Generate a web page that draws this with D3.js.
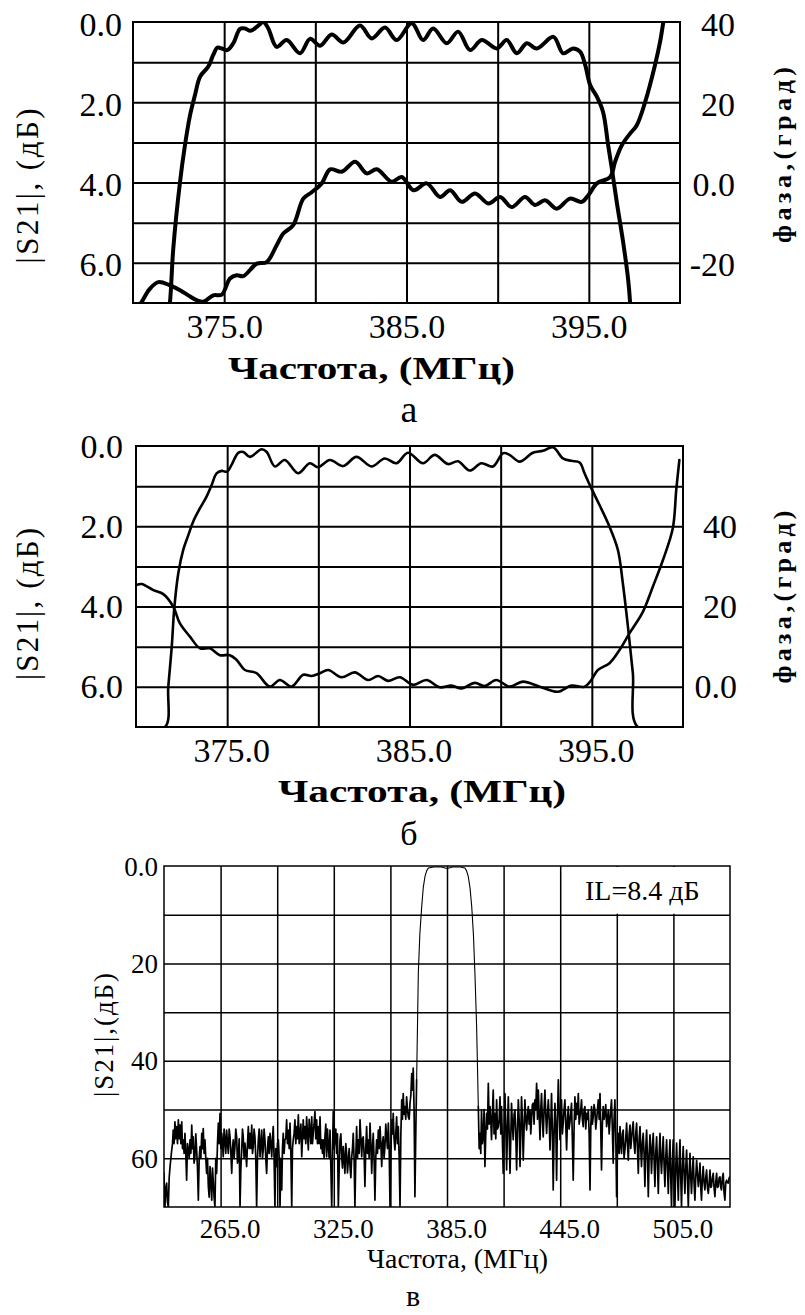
<!DOCTYPE html>
<html>
<head>
<meta charset="utf-8">
<script src="https://cdnjs.cloudflare.com/ajax/libs/d3/7.8.5/d3.min.js"></script>
<style>
  body { margin: 0; background: #fff; }
  svg { display: block; font-family: "Liberation Serif", "Times New Roman", serif; }
</style>
</head>
<body>
<div id="chart"></div>
<script>
// ---- data: [frequency MHz, value] ----

// panel a: |S21| (dB) and phase (deg)
var ampA = [[371.9,7.4],[372.03,6.97],[372.21,5.64],[372.58,3.98],[372.85,3.07],[373.13,2.32],[373.4,1.82],[373.68,1.36],
  [374.13,1.11],[374.4,0.82],[374.63,0.64],[374.87,0.66],[375.17,0.70],[375.5,0.53],[375.87,0.17],[376.14,0.16],[376.45,0.22],
  [376.87,0.09],[377.15,0.0],[377.42,0.16],[377.88,0.62],[378.43,0.45],[379.16,0.78],[379.71,0.42],[380.26,0.59],[380.9,0.31],
  [381.54,0.51],[382.45,0.09],[383.09,0.41],[383.82,0.14],[384.46,0.45],[385.29,0.03],[385.91,0.45],[386.46,0.16],[387.21,0.53],
  [387.83,0.24],[388.49,0.70],[389.13,0.45],[389.95,0.66],[390.5,0.45],[391.05,0.78],[391.6,0.53],[392.14,0.66],[393.06,0.37],
  [393.59,0.78],[394.14,0.66],[394.52,0.74],[394.8,1.07],[395.07,1.57],[395.44,1.86],[395.78,2.24],[396.06,3.07],[396.26,3.65],
  [396.53,4.48],[396.88,5.48],[397.15,6.39],[397.26,6.97],[397.3,7.4]];

var phaseA = [[370.2,-31.5],[370.48,-29.7],[370.9,-26.6],[371.39,-24.8],[372.03,-25.6],[372.58,-26.8],[373.03,-28.1],[373.49,-29.3],
  [373.86,-29.7],[374.4,-28.1],[374.87,-27.9],[375.32,-23.9],[375.69,-23.1],[376.05,-23.3],[376.79,-20.2],[377.33,-19.8],
  [377.88,-15.6],[378.24,-12.7],[378.79,-10.6],[379.34,-4.0],[379.8,-2.4],[380.35,-0.2],[380.81,3.3],[381.45,2.7],[382.18,5.2],
  [382.82,2.3],[383.37,3.3],[384.19,0.2],[384.74,1.4],[385.38,-1.9],[386.11,-0.2],[386.84,-3.6],[387.39,-1.9],[388.03,-4.8],
  [388.76,-2.7],[389.49,-5.2],[390.13,-3.6],[390.77,-6.1],[391.5,-3.6],[392.05,-5.6],[392.6,-4.4],[393.24,-6.5],[393.97,-4.0],
  [394.61,-4.8],[394.98,-3.1],[395.44,-0.2],[396.17,1.4],[396.44,5.2],[396.81,9.3],[397.26,12.2],[397.63,14.3],[398.09,20.1],
  [398.63,29.3],[398.91,35.1],[399.09,40.1],[399.2,43]];

// panel b
var ampB = [[370.0,7.0],[371.59,7.0],[371.77,6.0],[371.96,5.0],[372.1,4.04],[372.32,3.17],[372.59,2.59],[372.87,2.22],[373.14,1.88],
  [373.51,1.55],[373.87,1.26],[374.15,0.97],[374.42,0.68],[374.7,0.62],[375.0,0.64],[375.24,0.47],[375.61,0.17],[375.88,0.15],
  [376.25,0.27],[376.89,0.08],[377.17,0.15],[377.62,0.51],[378.16,0.35],[378.89,0.68],[379.53,0.43],[379.99,0.53],[380.63,0.35],
  [381.36,0.5],[382.09,0.27],[382.92,0.51],[383.64,0.31],[384.28,0.43],[384.92,0.17],[385.74,0.43],[386.38,0.22],[387.11,0.45],
  [387.66,0.38],[388.3,0.61],[388.94,0.43],[389.58,0.51],[390.13,0.18],[390.49,0.22],[391.04,0.39],[391.77,0.17],[392.32,0.12],
  [392.87,0.03],[393.41,0.31],[393.87,0.37],[394.33,0.41],[394.6,0.68],[394.97,1.05],[395.42,1.47],[395.97,2.01],[396.43,2.59],
  [396.7,3.42],[396.98,4.5],[397.25,5.66],[397.52,7.0],[400.0,7.0]];

var phaseB = [[370.04,25.4],[370.31,25.6],[370.95,24.1],[371.5,23.1],[372.04,20.0],[372.41,15.8],[372.96,12.5],[373.51,9.6],
  [374.05,9.6],[374.6,7.9],[375.15,7.9],[375.52,6.7],[375.97,4.2],[376.61,3.4],[377.34,0.05],[377.89,1.7],[378.53,0.05],
  [379.17,3.0],[379.63,2.7],[380.08,3.4],[380.54,4.2],[381.27,2.4],[382.0,3.6],[382.73,1.7],[383.28,2.7],[383.82,1.5],
  [384.47,2.4],[385.2,0.5],[385.93,1.7],[386.66,-0.1],[387.3,0.3],[387.85,-0.4],[388.58,1.0],[389.12,0.2],[389.76,1.7],
  [390.49,0.05],[391.22,1.3],[392.14,0.05],[393.14,-1.2],[393.87,0.3],[394.6,0.05],[394.97,1.7],[395.33,4.2],[395.97,5.9],
  [396.52,9.2],[397.07,13.4],[397.8,18.7],[398.35,25.0],[398.9,31.6],[399.44,39.5],[399.63,49.1],[399.8,56.5]];

// panel c: wide-band |S21| (dB)
var stopLeftC = [[235.0,63.1],[235.25,68],[235.5,70],[236.0,66],[236.4,65.1],[236.85,69],[237.3,70],[237.75,64],[238.2,61.7],
  [238.65,60],[239.1,58.3],[239.5,57],[239.9,54.2],[240.35,57],[240.8,52.5],[241.25,56],[241.7,53.5],[242.15,57],[242.6,52.1],
  [243.05,56],[243.5,53.2],[243.95,57],[244.4,52.5],[244.8,58],[245.2,56.2],[245.65,59],[246.1,54.9],[246.55,59],[247.0,64.5],
  [247.45,57],[247.9,58.3],[248.35,60],[248.8,56.2],[249.25,59],[249.7,53.2],[250.1,58],[250.5,55.6],[250.95,61],[251.4,59.7],
  [251.85,55],[252.3,58.3],[252.75,62],[253.2,68.6],[253.65,60],[254.1,57.6],[254.55,60],[255.0,54.9],[255.4,58],[255.8,53.9],
  [256.25,59],[256.7,56.2],[257.15,60],[257.6,63.1],[258.05,60],[258.5,65.8],[258.95,68],[259.4,61.7],[259.85,65],[260.3,68.6],
  [260.7,62],[261.1,64.5],[261.55,68],[262.0,70],[262.45,60],[262.9,63.1],[263.35,57],[263.8,52.8],[264.25,57],[264.7,50.8],
  [265.15,58],[265.6,54.9],[266.0,57],[266.4,59.7],[266.85,54],[267.3,56.2],[267.75,59],[268.2,54.2],[268.65,57],[269.1,59.0],
  [269.55,54],[270.0,55.6],[270.45,59],[270.9,63.1],[271.3,58],[271.7,56.2],[272.15,60],[272.6,57.6],[273.05,54],[273.5,55.6],
  [273.95,61],[274.4,59.7],[274.85,56],[275.3,70],[275.75,62],[276.2,58.3],[276.6,54],[277.0,55.6],[277.45,60],[277.9,56.9],
  [278.35,59],[278.8,61.7],[279.25,57],[279.7,53.5],[280.15,58],[280.6,54.9],[281.05,58],[281.5,53.2],[281.9,59],[282.3,57.6],
  [282.75,54],[283.2,55.6],[283.65,60],[284.1,70],[284.55,60],[285.0,56.2],[285.45,54],[285.9,59.7],[286.35,57],[286.8,54.2],
  [287.2,60],[287.6,58.3],[288.05,54],[288.5,56.2],[288.95,60],[289.4,63.1],[289.85,58],[290.3,55.6],[290.75,59],[291.2,54.9],
  [291.65,57],[292.1,59.7],[292.5,56],[292.9,53.5],[293.35,60],[293.8,70],[294.25,58],[294.7,61.7],[295.15,57],[295.6,56.2],
  [296.05,60],[296.5,70],[296.95,60],[297.4,66.5],[297.8,58],[298.2,54.9],[298.65,59],[299.1,56.2],[299.55,56],[300.0,52.1],
  [300.45,57],[300.9,54.2],[301.35,58],[301.8,52.8],[302.25,59],[302.7,70],[303.1,58],[303.5,56.2],[303.95,55],[304.4,52.1],
  [304.85,57],[305.3,53.5],[305.75,56],[306.2,51.1],[306.65,57],[307.1,54.9],[307.55,53],[308.0,59.7],[308.4,56],[308.8,52.1],
  [309.25,56],[309.7,53.5],[310.15,57],[310.6,51.5],[311.05,55],[311.5,58.3],[311.95,52],[312.4,54.2],[312.85,57],[313.3,51.5],
  [313.7,57],[314.1,54.9],[314.55,53],[315.0,50.4],[315.45,56],[315.9,52.1],[316.35,57],[316.8,53.5],[317.25,57],[317.7,51.5],
  [318.15,58],[318.6,56.2],[319.0,59],[319.4,56.2],[319.85,60],[320.3,55.6],[320.75,53],[321.2,59.7],[321.65,54],[322.1,57.6],
  [322.55,60],[323.0,54.2],[323.45,62],[323.9,70],[324.3,60],[324.7,50.4],[325.15,58],[325.6,56.2],[326.05,54],[326.5,59.0],
  [326.95,55],[327.4,70],[327.85,62],[328.3,56.2],[328.75,55],[329.2,59.7],[329.6,62],[330.0,57.6],[330.45,60],[330.9,63.1],
  [331.35,57],[331.8,59.0],[332.25,63],[332.7,60.4],[333.15,58],[333.6,61.7],[334.05,64],[334.5,59.7],[334.9,58],[335.3,54.9],
  [335.75,60],[336.2,70],[336.65,60],[337.1,53.5],[337.55,60],[338.0,56.2],[338.45,59],[338.9,52.1],[339.35,56],[339.8,59.7],
  [340.2,56],[340.6,55.6],[341.05,59],[341.5,65.8],[341.95,58],[342.4,53.5],[342.85,59],[343.3,56.2],[343.75,60],[344.2,52.8],
  [344.65,57],[345.1,63.1],[345.5,58],[345.9,54.9],[346.35,60],[346.8,68.6],[347.25,60],[347.7,56.2],[348.15,59],[348.6,54.2],
  [349.05,58],[349.5,53.5],[349.95,57],[350.4,61.7],[350.8,57],[351.2,55.6],[351.65,60],[352.1,57.6],[352.55,53],[353.0,55.6],
  [353.45,58],[353.9,52.8],[354.35,58],[354.8,70],[355.25,59],[355.7,52.1],[356.1,55],[356.5,50.8],[356.95,56],[357.4,58.3],
  [357.85,55],[358.3,51.5],[358.75,57],[359.2,53.5],[359.65,60],[360.1,70],[360.55,55],[361.0,48.0],[361.4,52],[361.8,46.7],
  [362.25,51],[362.7,49.4],[363.15,52],[363.6,47.4],[364.05,50],[364.5,51.5],[364.95,52],[365.4,48.7],[365.85,47],[366.3,42.6],
  [366.7,46],[367.1,41.5],[367.55,50],[368.0,67.9],[368.45,55],[368.9,43.9]];

var passC = [[368.9,43.9],[369.8,22],[370.6,14],[371.6,8.3],[372.4,4.5],[373.3,2.2],[374.2,1.0],[375.1,0.4],[378.0,0.2],[382.0,0.2],
  [385.0,0.5],[388.0,0.2],[392.0,0.2],[394.5,0.4],[395.4,1.0],[396.3,2.2],[397.2,4.5],[398.1,8.3],[399.0,14],[399.8,22],
  [400.7,33],[401.2,42],[401.6,49.4]];

var stopRightC = [[401.6,49.4],[402.05,58],[402.5,54.9],[402.9,59],[403.3,50.1],[403.75,57],[404.2,55.6],[404.65,50],[405.1,61.7],
  [405.55,55],[406.0,50.8],[406.45,54],[406.9,44.6],[407.35,53],[407.8,49.4],[408.2,52],[408.6,56.2],[409.05,51],[409.5,46.0],
  [409.95,55],[410.4,50.8],[410.85,56],[411.3,48.0],[411.75,54],[412.2,53.5],[412.65,52],[413.1,47.4],[413.5,55],[413.9,49.4],
  [414.35,56],[414.8,63.1],[415.25,55],[415.7,46.7],[416.15,53],[416.6,62.4],[417.05,54],[417.5,47.4],[417.95,55],[418.4,63.1],
  [418.8,56],[419.2,48.7],[419.65,53],[420.1,56.2],[420.55,51],[421.0,50.1],[421.45,55],[421.9,62.4],[422.35,54],[422.8,48.0],
  [423.25,52],[423.7,61.7],[424.1,55],[424.5,47.4],[424.95,52],[425.4,60.4],[425.85,54],[426.3,48.0],[426.75,52],[427.2,54.2],
  [427.65,51],[428.1,49.4],[428.55,53],[429.0,50.1],[429.4,55],[429.8,52.1],[430.25,49],[430.7,48.7],[431.15,53],[431.6,48.0],
  [432.05,50],[432.5,44.6],[432.95,52],[433.4,46.0],[433.85,51],[434.3,56.2],[434.7,50],[435.1,46.7],[435.55,52],[436.0,55.6],
  [436.45,50],[436.9,46.0],[437.35,51],[437.8,54.9],[438.25,51],[438.7,48.0],[439.15,52],[439.6,58.3],[440.0,53],[440.4,46.7],
  [440.85,54],[441.3,66.5],[441.75,55],[442.2,48.7],[442.65,53],[443.1,64.5],[443.55,52],[444.0,43.9],[444.45,50],[444.9,56.2],
  [445.3,52],[445.7,48.0],[446.15,55],[446.6,52.8],[447.05,50],[447.5,48.0],[447.95,53],[448.4,58.3],[448.85,52],[449.3,49.4],
  [449.7,54],[450.1,52.8],[450.55,51],[451.0,48.7],[451.45,56],[451.9,64.5],[452.35,54],[452.8,47.4],[453.25,52],[453.7,48.7],
  [454.15,51],[454.6,46.7],[455.05,53],[455.5,51.5],[455.9,50],[456.3,48.0],[456.75,52],[457.2,53.5],[457.65,50],[458.1,49.4],
  [458.55,54],[459.0,50.8],[459.45,52],[459.9,50.1],[460.35,55],[460.8,66.5],[461.2,54],[461.6,49.4],[462.05,53],[462.5,51.5],
  [462.95,49],[463.4,50.1],[463.85,54],[464.3,52.1],[464.75,50],[465.2,48.0],[465.65,52],[466.1,46.7],[466.5,54],[466.9,62.4],
  [467.35,53],[467.8,49.4],[468.25,52],[468.7,50.8],[469.15,49],[469.6,53.5],[470.05,52],[470.5,50.1],[470.95,55],[471.4,52.1],
  [471.8,50],[472.2,48.0],[472.65,54],[473.1,61.0],[473.55,52],[474.0,48.0],[474.45,55],[474.9,67.9],[475.35,58],[475.8,54.9],
  [476.25,59],[476.7,53.5],[477.1,57],[477.5,59.0],[477.95,55],[478.4,54.2],[478.85,60],[479.3,58.3],[479.75,56],[480.2,52.8],
  [480.65,57],[481.1,60.4],[481.55,55],[482.0,53.2],[482.4,58],[482.8,56.2],[483.25,54],[483.7,52.5],[484.15,57],[484.6,59.0],
  [485.05,55],[485.5,52.8],[485.95,58],[486.4,63.1],[486.85,56],[487.3,53.5],[487.7,58],[488.1,61.7],[488.55,57],[489.0,54.9],
  [489.45,59],[489.9,65.8],[490.35,58],[490.8,54.2],[491.25,60],[491.7,67.9],[492.15,59],[492.6,55.2],[493.0,58],[493.4,63.1],
  [493.85,58],[494.3,54.9],[494.75,60],[495.2,65.8],[495.65,59],[496.1,55.6],[496.55,61],[497.0,67.2],[497.45,59],[497.9,54.9],
  [498.3,60],[498.7,63.1],[499.15,59],[499.6,55.6],[500.05,61],[500.5,65.8],[500.95,60],[501.4,56.2],[501.85,62],[502.3,67.2],
  [502.75,60],[503.2,56.2],[503.6,64],[504.0,70],[504.45,61],[504.9,56.2],[505.35,64],[505.8,70],[506.25,62],[506.7,56.9],
  [507.15,63],[507.6,68.6],[508.05,61],[508.5,56.2],[508.9,64],[509.3,70],[509.75,62],[510.2,57.6],[510.65,63],[511.1,67.2],
  [511.55,62],[512.0,58.3],[512.45,64],[512.9,70],[513.35,63],[513.8,59.0],[514.2,64],[514.6,67.2],[515.05,63],[515.5,59.7],
  [515.95,65],[516.4,68.6],[516.85,64],[517.3,60.4],[517.75,63],[518.2,65.8],[518.65,64],[519.1,61.0],[519.5,66],[519.9,68.6],
  [520.35,64],[520.8,61.7],[521.25,65],[521.7,66.5],[522.15,64],[522.6,62.4],[523.05,66],[523.5,67.2],[523.95,65],[524.4,62.4],
  [524.8,66],[525.2,65.8],[525.65,64],[526.1,63.1],[526.55,66],[527.0,67.9],[527.45,65],[527.9,63.1],[528.35,66],[528.8,65.8],
  [529.25,64],[529.7,63.8],[530.1,66],[530.5,66.5],[530.95,64],[531.4,63.1],[531.85,67],[532.3,68.6],[532.75,65],[533.2,64.5],
  [533.65,65],[534.1,65.1],[534.55,64],[535.0,63.8]];

// ticks
var gridFreqAB = [375, 380, 385, 390, 395];
var ticksFreqAB = [375, 385, 395];
var gridDbAB = [1, 2, 3, 4, 5, 6];
var ticksDbAB = [0, 2, 4, 6];
var ticksPhaseA = [40, 20, 0, -20];
var ticksPhaseB = [40, 20, 0];
var gridFreqC = [265, 295, 325, 355, 385, 415, 445, 475, 505];
var ticksFreqC = [265, 325, 385, 445, 505];
var gridDbC = [10, 20, 30, 40, 50, 60];
var ticksDbC = [0, 20, 40, 60];

var svg = d3.select("#chart").append("svg")
  .attr("width", 805)
  .attr("height", 1315);

var fmtDb = function(d) { return d.toFixed(1); };
var fmtDeg = function(d) { return d === 0 ? "0.0" : String(d); };

// axes put sans-serif on their group: drop it so the serif face is used
function plainAxis(sel, size) {
  sel.attr("font-family", null).attr("font-size", null);
  sel.select(".domain").remove();
  sel.selectAll("text").attr("fill", "#000").attr("font-size", size);
}

function drawPanel(p) {
  var x = d3.scaleLinear().domain(p.xDomain).range([p.l, p.r]);
  var y = d3.scaleLinear().domain(p.yDomain).range([p.t, p.b]);
  var g = svg.append("g");
  var h = p.b - p.t, w = p.r - p.l;

  // grid
  g.append("g")
    .attr("transform", "translate(0," + p.b + ")")
    .call(d3.axisBottom(x).tickValues(p.xGrid).tickSize(-h).tickFormat(""))
    .call(function(s) { s.select(".domain").remove(); })
    .selectAll("line").attr("stroke", "#000").attr("stroke-width", p.gridW);
  g.append("g")
    .attr("transform", "translate(" + p.l + ",0)")
    .call(d3.axisLeft(y).tickValues(p.yGrid).tickSize(-w).tickFormat(""))
    .call(function(s) { s.select(".domain").remove(); })
    .selectAll("line").attr("stroke", "#000").attr("stroke-width", p.gridW);

  if (p.blank) {
    g.append("rect")
      .attr("x", x(p.blank[0])).attr("y", p.t + 1)
      .attr("width", x(p.blank[1]) - x(p.blank[0])).attr("height", y(p.blank[2]) - p.t - 2)
      .attr("fill", "#fff");
  }

  g.append("rect")
    .attr("x", p.l).attr("y", p.t).attr("width", w).attr("height", h)
    .attr("fill", "none").attr("stroke", "#000").attr("stroke-width", p.gridW);

  // tick labels
  var xa = g.append("g")
    .attr("transform", "translate(0," + p.b + ")")
    .call(d3.axisBottom(x).tickValues(p.xTicks).tickSize(0).tickFormat(fmtDb));
  plainAxis(xa, p.tickFont);
  xa.selectAll("text").attr("y", p.xLabelY - p.b).attr("dy", null).attr("dx", p.xDx || 0);

  var ya = g.append("g")
    .attr("transform", "translate(" + p.l + ",0)")
    .call(d3.axisLeft(y).tickValues(p.yTicks).tickSize(0).tickPadding(p.l - p.yLabelX)
      .tickFormat(p.yFmt));
  plainAxis(ya, p.tickFont);
  ya.selectAll("text").attr("dy", p.yDy);

  var clipId = "clip" + p.id;
  svg.append("clipPath").attr("id", clipId)
    .append("rect").attr("x", p.l).attr("y", p.t).attr("width", w).attr("height", h);

  var line = d3.line()
    .x(function(d) { return x(d[0]); })
    .y(function(d) { return y(d[1]); })
    .curve(p.curve);

  p.series.forEach(function(s, i) {
    g.append("path").datum(s)
      .attr("clip-path", "url(#" + clipId + ")")
      .attr("d", line)
      .attr("fill", "none").attr("stroke", "#000")
      .attr("stroke-width", p.lineW[i]).attr("stroke-linejoin", "round").attr("stroke-linecap", "round");
  });

  if (p.phase) {
    var y2 = d3.scaleLinear().domain(p.y2Domain).range([p.b, p.t]);
    var ra = g.append("g")
      .attr("transform", "translate(" + p.r + ",0)")
      .call(d3.axisRight(y2).tickValues(p.y2Ticks).tickSize(0).tickFormat(fmtDeg));
    plainAxis(ra, p.tickFont);
    ra.selectAll("text")
      .attr("x", p.y2LabelX - p.r).attr("text-anchor", "end").attr("dy", p.yDy);
    var line2 = d3.line()
      .x(function(d) { return x(d[0]); })
      .y(function(d) { return y2(d[1]); })
      .curve(p.curve);
    g.append("path").datum(p.phase)
      .attr("clip-path", "url(#" + clipId + ")")
      .attr("d", line2)
      .attr("fill", "none").attr("stroke", "#000")
      .attr("stroke-width", p.lineW[0]).attr("stroke-linejoin", "round").attr("stroke-linecap", "round");
  }
  return g;
}

function vText(x, cy, txt, size, len, weight) {
  svg.append("text")
    .attr("transform", "translate(" + x + "," + cy + ") rotate(-90)")
    .attr("text-anchor", "middle")
    .attr("font-size", size)
    .attr("font-weight", weight || "normal")
    .attr("textLength", len).attr("lengthAdjust", "spacing")
    .text(txt);
}

function hText(x, y, txt, size, len, weight, anchor) {
  var t = svg.append("text")
    .attr("x", x).attr("y", y)
    .attr("text-anchor", anchor || "start")
    .attr("font-size", size)
    .attr("font-weight", weight || "normal")
    .text(txt);
  if (len) t.attr("textLength", len).attr("lengthAdjust", "spacingAndGlyphs");
}

// panel a
drawPanel({
  id: "a", l: 133, r: 680, t: 22, b: 303,
  xDomain: [370, 400], yDomain: [0, 7], y2Domain: [-30, 40],
  xGrid: gridFreqAB, yGrid: gridDbAB, xTicks: ticksFreqAB, yTicks: ticksDbAB, y2Ticks: ticksPhaseA,
  yFmt: fmtDb, gridW: 2, lineW: [4], tickFont: 34,
  xLabelY: 338, yLabelX: 122, y2LabelX: 735, yDy: 13,
  curve: d3.curveCatmullRom, series: [ampA], phase: phaseA
});
vText(38, 186, "|S21|, (дБ)", 31, 155);
vText(791, 155, "фаза,(град)", 26, 176, "bold");
hText(228, 379, "Частота, (МГц)", 32, 287, "bold");
hText(409, 422, "а", 38, null, "normal", "middle");

// panel b
drawPanel({
  id: "b", l: 136, r: 683, t: 446, b: 727,
  xDomain: [370, 400], yDomain: [0, 7], y2Domain: [-10, 60],
  xGrid: gridFreqAB, yGrid: gridDbAB, xTicks: ticksFreqAB, yTicks: ticksDbAB, y2Ticks: ticksPhaseB,
  yFmt: fmtDb, gridW: 2, lineW: [2.6], tickFont: 34, xDx: 4,
  xLabelY: 762, yLabelX: 123, y2LabelX: 737, yDy: 11,
  curve: d3.curveCatmullRom, series: [ampB], phase: phaseB
});
vText(38, 604, "|S21|, (дБ)", 31, 152);
vText(791, 597, "фаза,(град)", 26, 173, "bold");
hText(278, 802, "Частота, (МГц)", 32, 288, "bold");
hText(409, 845, "б", 34, null, "normal", "middle");

// panel c
drawPanel({
  id: "c", l: 164, r: 730, t: 866, b: 1207,
  xDomain: [235, 535], yDomain: [0, 70],
  xGrid: gridFreqC, yGrid: gridDbC, xTicks: ticksFreqC, yTicks: ticksDbC,
  yFmt: function(d) { return d === 0 ? "0.0" : String(d); },
  gridW: 1.5, lineW: [1.7, 1.1, 1.7], tickFont: 27, xDx: 9,
  xLabelY: 1238, yLabelX: 158, yDy: 9,
  blank: [446, 535, 10],
  curve: d3.curveLinear, series: [stopLeftC, passC, stopRightC]
});
vText(113, 1035, "|S21|,(дБ)", 27, 124);
hText(367, 1268, "Частота, (МГц)", 28, 181);
hText(585, 900, "IL=8.4 дБ", 28);
hText(413, 1306, "в", 30, null, "normal", "middle");
</script>
</body>
</html>
